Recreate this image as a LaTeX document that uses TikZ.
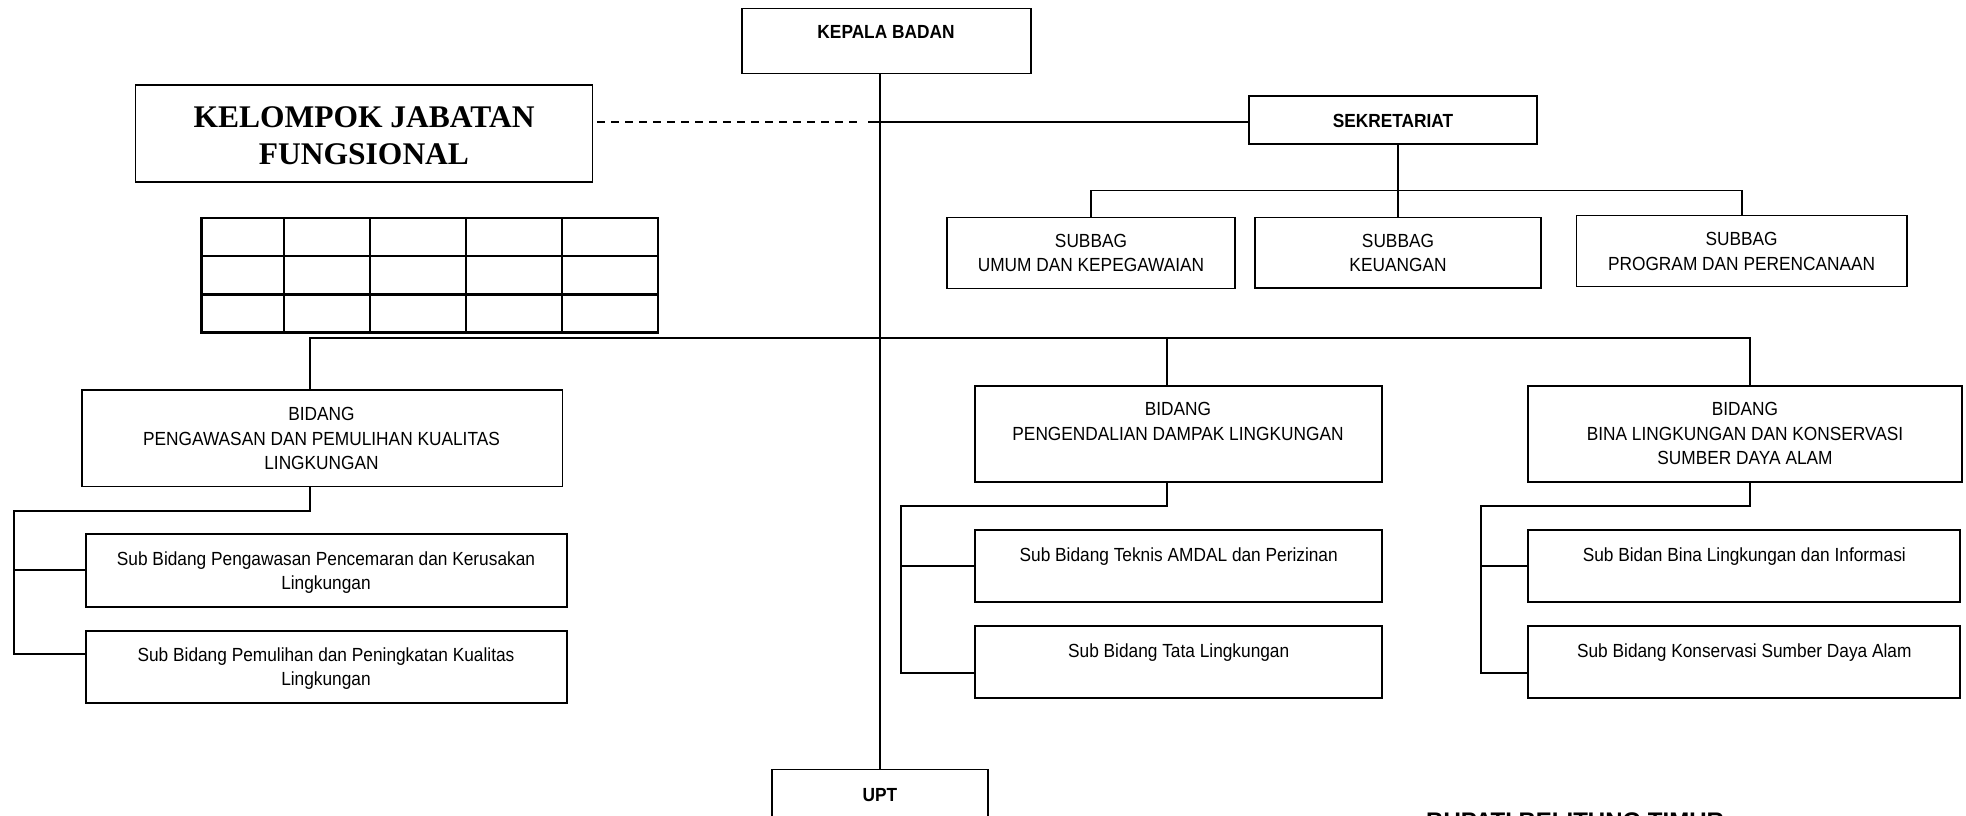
\documentclass[tikz,border=0pt]{standalone}
\usepackage{fontspec}
\setmainfont{Liberation Sans}[FakeStretch=0.91]
\newfontfamily\tnr{Liberation Serif}
\newfontfamily\wide{Liberation Sans}
\begin{document}
\begin{tikzpicture}[x=1pt,y=-1pt,
  box/.style={draw, line width=1.9pt, inner sep=0pt, rectangle},
  conn/.style={line width=1.9pt},
  grid/.style={line width=2.6pt},
  txt/.style={font=\fontsize{19}{24.5}\selectfont, align=center, inner sep=0pt, anchor=north},
  btxt/.style={txt, font=\fontsize{19}{24.5}\selectfont\bfseries}]
\useasboundingbox (0,0) rectangle (1966,816);
\fill[white] (0,0) rectangle (1966,816);

% top level
\node[box, minimum width=289pt, minimum height=65pt] (kb) at (886.5,41) {};
\node[btxt] (kbt) at (886,25.2) {KEPALA BADAN};

\node[box, minimum width=457pt, minimum height=97pt] (kf) at (364,133.5) {};
\node[inner sep=0pt, anchor=north, align=center, font=\fontsize{31.5}{37.5}\selectfont\tnr\bfseries] (kft) at (364,106) {KELOMPOK JABATAN\\FUNGSIONAL};

\node[box, minimum width=288pt, minimum height=48pt] (sek) at (1393,120) {};
\node[btxt] (sekt) at (1393,113.9) {SEKRETARIAT};

% subbag
\node[box, minimum width=288pt, minimum height=71pt] (umum) at (1091,253) {};
\node[txt] (umumt) at (1091,233.7) {SUBBAG\\UMUM DAN KEPEGAWAIAN};
\node[box, minimum width=286pt, minimum height=70.5pt] (keu) at (1398,252.7) {};
\node[txt] (keut) at (1398,233.7) {SUBBAG\\KEUANGAN};
\node[box, minimum width=330.5pt, minimum height=71pt] (prog) at (1741.7,251) {};
\node[txt] (progt) at (1741.6,232.2) {SUBBAG\\PROGRAM DAN PERENCANAAN};

% table
\draw[grid] (201.5,218) rectangle (658,332.7);
\foreach \y in {256,294.3} \draw[grid] (201.5,\y) -- (658,\y);
\foreach \x in {284,370,466,562} \draw[grid] (\x,218) -- (\x,332.7);

% bidang
\node[box, minimum width=480.5pt, minimum height=96.5pt] (bl) at (322.2,438.2) {};
\node[txt] (blt) at (321.5,407.2) {BIDANG\\PENGAWASAN DAN PEMULIHAN KUALITAS\\LINGKUNGAN};
\node[box, minimum width=407.8pt, minimum height=96.3pt] (bm) at (1178.5,434.2) {};
\node[txt] (bmt) at (1178,402.2) {BIDANG\\PENGENDALIAN DAMPAK LINGKUNGAN};
\node[box, minimum width=434pt, minimum height=96.3pt] (br) at (1745.3,434.2) {};
\node[txt] (brt) at (1745,402.2) {BIDANG\\BINA LINGKUNGAN DAN KONSERVASI\\SUMBER DAYA ALAM};

% sub bidang
\node[box, minimum width=481.3pt, minimum height=72.7pt] (sl1) at (326.3,570.3) {};
\node[txt] (sl1t) at (326,551.5) {Sub Bidang Pengawasan Pencemaran dan Kerusakan\\Lingkungan};
\node[box, minimum width=481.3pt, minimum height=72pt] (sl2) at (326.3,666.7) {};
\node[txt] (sl2t) at (326,647.5) {Sub Bidang Pemulihan dan Peningkatan Kualitas\\Lingkungan};

\node[box, minimum width=407.4pt, minimum height=72.3pt] (st) at (1178.7,566.2) {};
\node[txt] (stt) at (1178.7,547.2) {Sub Bidang Teknis AMDAL dan Perizinan};
\node[box, minimum width=407.4pt, minimum height=72.6pt] (sm2) at (1178.7,662) {};
\node[txt] (sm2t) at (1178.7,643.2) {Sub Bidang Tata Lingkungan};

\node[box, minimum width=432pt, minimum height=72.3pt] (sr1) at (1744.3,566.2) {};
\node[txt] (sr1t) at (1744.3,547.2) {Sub Bidan Bina Lingkungan dan Informasi};
\node[box, minimum width=432pt, minimum height=72.6pt] (sr2) at (1744.3,662) {};
\node[txt] (sr2t) at (1744.3,643.2) {Sub Bidang Konservasi Sumber Daya Alam};

% UPT
\node[box, minimum width=216pt, minimum height=80pt] (upt) at (880,809.5) {};
\node[btxt] (uptt) at (880,788.2) {UPT};

\node[font=\fontsize{24}{28}\selectfont\wide\bfseries, inner sep=0pt, anchor=north west] (bup) at (1426,813) {BUPATI BELITUNG TIMUR};

% coordinates
\coordinate (d1) at (597,121.7);
\coordinate (d2) at (858,121.7);
\coordinate (s1) at (868,122);
\coordinate (sbar) at (0,190.5);
\coordinate (bbar) at (0,338);
\coordinate (xL) at (310,0);
\coordinate (xM) at (1166.7,0);
\coordinate (xR) at (1750,0);
\coordinate (lL) at (14.3,510.7);
\coordinate (bL2) at (85.7,654.3);
\coordinate (mL) at (901.2,505.7);
\coordinate (bM2) at (975,673.3);
\coordinate (rL) at (1481.3,505.7);
\coordinate (bR2) at (1528.3,673.3);

% connectors
\draw[conn] (kb.south -| upt.north) -- (upt.north);
\draw[line width=1.9pt, dash pattern=on 8pt off 6pt] (d1) -- (d2);
\draw[conn] (s1) -- (s1 -| sek.west);
\draw[conn] (sek.south -| keu.north) -- (keu.north);
\draw[conn] (umum.north) |- (prog.north |- sbar) -- (prog.north);

\draw[line width=2.3pt] (xL |- bl.north) |- (xR |- bbar) -- (xR |- br.north);
\draw[conn] (xM |- bbar) -- (xM |- bm.north);

\draw[conn] (xL |- bl.south) |- (lL) |- (bL2);
\draw[conn] (lL |- sl1.west) -- (sl1.west);
\draw[conn] (xM |- bm.south) |- (mL) |- (bM2);
\draw[conn] (mL |- st.west) -- (st.west);
\draw[conn] (xR |- br.south) |- (rL) |- (bR2);
\draw[conn] (rL |- sr1.west) -- (sr1.west);
\end{tikzpicture}
\end{document}
